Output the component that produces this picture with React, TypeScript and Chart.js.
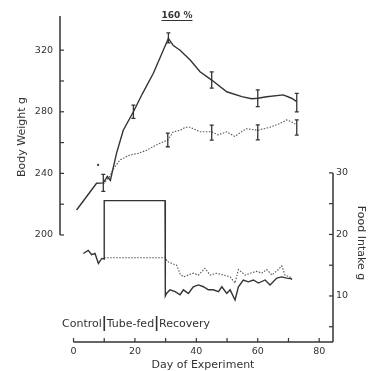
import React, { useEffect, useRef } from "react";
import { Chart, registerables } from "chart.js";

Chart.register(...registerables);

// ---- Body weight (g) ----
const weightTubeDays = [1.0, 7.5, 9.7, 11.0, 12.0, 14.0, 16.2, 19.5, 22.5, 26.0, 30.9, 32.5, 34.7, 38.0, 41.2, 45.0, 49.9, 54.8, 58.0, 60.0, 62.9, 68.3, 71.0, 72.7];
const weightTubeValues = [216.2, 233.6, 233.8, 238.0, 235.5, 253.0, 268.0, 280.0, 292.0, 305.0, 327.7, 323.0, 320.0, 313.6, 306.0, 300.6, 293.0, 289.8, 288.5, 288.8, 289.8, 291.0, 288.8, 286.6];

const weightControlDays = [9.7, 11.7, 13.0, 15.1, 18.4, 21.0, 23.8, 27.0, 30.7, 32.5, 34.7, 36.5, 38.0, 41.2, 45.0, 47.0, 49.9, 52.5, 56.2, 60.0, 64.0, 67.3, 69.4, 71.0, 72.7];
const weightControlValues = [233.0, 237.9, 243.0, 248.7, 252.0, 253.0, 255.0, 258.5, 261.7, 267.0, 268.0, 270.0, 270.0, 267.0, 267.0, 265.0, 267.0, 264.0, 269.0, 268.0, 270.0, 272.5, 274.7, 273.6, 271.4];

const strayDotDays = [8.0];
const strayDotValues = [245.5];

// error bars: day, centre, half-width
const errTubeDays = [9.7, 19.5, 30.9, 45.0, 60.0, 72.7];
const errTubeCentre = [233.8, 280.0, 328.0, 300.6, 288.8, 286.0];
const errTubeHalf = [5.5, 4.3, 3.3, 5.3, 5.4, 6.0];

const errControlDays = [30.7, 45.0, 60.0, 72.7];
const errControlCentre = [261.7, 266.5, 266.6, 269.8];
const errControlHalf = [4.4, 4.9, 4.9, 4.9];

// ---- Food intake (g) ----
const foodTubeDays = [3.2, 4.8, 5.9, 7.0, 8.1, 9.2, 10.0, 10.0, 29.8, 29.9, 30.3, 31.4, 33.1, 34.7, 35.8, 37.4, 39.0, 40.7, 42.3, 43.9, 45.5, 47.2, 48.3, 49.9, 51.0, 52.6, 53.7, 55.3, 56.9, 58.6, 60.2, 62.4, 64.0, 66.2, 67.8, 69.4, 71.1];
const foodTubeValues = [16.9, 17.4, 16.7, 16.9, 15.3, 16.1, 16.0, 25.5, 25.5, 10.0, 10.4, 11.0, 10.7, 10.2, 11.0, 10.4, 11.5, 11.8, 11.5, 11.0, 11.0, 10.7, 11.5, 10.4, 11.0, 9.35, 11.5, 12.6, 12.3, 12.6, 12.1, 12.6, 11.8, 12.9, 13.1, 12.9, 12.8];

const foodControlDays = [10.0, 30.0, 30.5, 32.0, 33.6, 34.7, 35.8, 37.4, 39.0, 40.7, 42.8, 44.5, 46.6, 48.8, 51.0, 52.6, 53.7, 55.9, 57.5, 59.7, 61.3, 62.9, 64.6, 66.7, 67.8, 68.9, 70.5, 71.1];
const foodControlValues = [16.2, 16.2, 15.6, 15.3, 15.0, 13.6, 13.1, 13.4, 13.7, 13.4, 14.5, 13.4, 13.7, 13.4, 13.1, 12.1, 14.3, 13.4, 13.7, 14.0, 13.7, 14.3, 13.4, 14.3, 14.9, 13.4, 13.1, 12.6];

// ---- ticks ----
const xTicks = [0, 10, 20, 30, 40, 50, 60, 70, 80];
const xLabels = [0, 20, 40, 60, 80];
const weightTicks = [200, 220, 240, 260, 280, 300, 320];
const weightLabels = [200, 240, 280, 320];
const foodTicks = [5, 10, 15, 20, 25, 30];
const foodLabels = [10, 20, 30];

const title = "160 %";
const phaseLabels = ["Control", "Tube-fed", "Recovery"];
const xTitle = "Day of Experiment";
const weightTitle = "Body Weight g";
const foodTitle = "Food Intake g";

const INK = "#333";
const FONT = "'DejaVu Sans', sans-serif";

const toXY = (xs: number[], ys: number[]) => xs.map((x, i) => ({ x, y: ys[i] }));

const decor = {
  id: "decor",
  afterDraw(chart: any) {
    const { ctx, chartArea } = chart;
    const x = chart.scales.x;
    const yW = chart.scales.yW;
    const yF = chart.scales.yF;
    ctx.save();
    ctx.strokeStyle = INK;
    ctx.fillStyle = INK;
    ctx.lineWidth = 1.5;
    ctx.lineCap = "butt";
    // left axis
    const lx = chartArea.left;
    ctx.beginPath();
    ctx.moveTo(lx, yW.getPixelForValue(200));
    ctx.lineTo(lx, chartArea.top);
    ctx.stroke();
    ctx.lineWidth = 1.2;
    for (const v of weightTicks) {
      const py = yW.getPixelForValue(v);
      ctx.beginPath();
      ctx.moveTo(lx, py);
      ctx.lineTo(lx + 4, py);
      ctx.stroke();
    }
    // bottom axis
    ctx.lineWidth = 1.5;
    const by = chartArea.bottom;
    ctx.beginPath();
    ctx.moveTo(x.getPixelForValue(0), by);
    ctx.lineTo(chartArea.right, by);
    ctx.stroke();
    ctx.lineWidth = 1.2;
    for (const v of xTicks) {
      const px = x.getPixelForValue(v);
      ctx.beginPath();
      ctx.moveTo(px, by);
      ctx.lineTo(px, by - 4);
      ctx.stroke();
    }
    // right axis
    ctx.lineWidth = 1.5;
    const rx = chartArea.right;
    ctx.beginPath();
    ctx.moveTo(rx, by);
    ctx.lineTo(rx, yF.getPixelForValue(30));
    ctx.stroke();
    ctx.lineWidth = 1.2;
    for (const v of foodTicks) {
      const py = yF.getPixelForValue(v);
      ctx.beginPath();
      ctx.moveTo(rx, py);
      ctx.lineTo(rx - 4, py);
      ctx.stroke();
    }
    // error bars
    const drawErr = (days: number[], c: number[], h: number[]) => {
      ctx.lineWidth = 1.3;
      days.forEach((d, i) => {
        const px = x.getPixelForValue(d);
        const top = yW.getPixelForValue(c[i] + h[i]);
        const bot = yW.getPixelForValue(c[i] - h[i]);
        ctx.beginPath();
        ctx.moveTo(px, top);
        ctx.lineTo(px, bot);
        ctx.moveTo(px - 2, top);
        ctx.lineTo(px + 2, top);
        ctx.moveTo(px - 2, bot);
        ctx.lineTo(px + 2, bot);
        ctx.stroke();
      });
    };
    drawErr(errTubeDays, errTubeCentre, errTubeHalf);
    drawErr(errControlDays, errControlCentre, errControlHalf);

    // title
    ctx.font = `bold 9px ${FONT}`;
    ctx.textAlign = "center";
    ctx.textBaseline = "alphabetic";
    ctx.fillText(title, 177, 18);
    const tw = ctx.measureText(title).width;
    ctx.lineWidth = 1;
    ctx.beginPath();
    ctx.moveTo(177 - tw / 2, 20.5);
    ctx.lineTo(177 + tw / 2, 20.5);
    ctx.stroke();

    // phase labels
    ctx.font = `11px ${FONT}`;
    ctx.textAlign = "left";
    let cx = 62;
    phaseLabels.forEach((t, i) => {
      ctx.fillText(t, cx, 327);
      cx += ctx.measureText(t).width;
      if (i < phaseLabels.length - 1) {
        cx += 2.5;
        ctx.lineWidth = 1.6;
        ctx.beginPath();
        ctx.moveTo(cx, 316);
        ctx.lineTo(cx, 331);
        ctx.stroke();
        cx += 2.5;
      }
    });

    // x title
    ctx.textAlign = "center";
    ctx.fillText(xTitle, 203, 368);

    // left title
    ctx.save();
    ctx.translate(22, 137);
    ctx.rotate(-Math.PI / 2);
    ctx.textBaseline = "middle";
    ctx.fillText(weightTitle, 0, 0);
    ctx.restore();

    // right title
    ctx.save();
    ctx.translate(361, 243);
    ctx.rotate(Math.PI / 2);
    ctx.textBaseline = "middle";
    ctx.fillText(foodTitle, 0, 0);
    ctx.restore();

    ctx.restore();
  },
};

export default function App() {
  const ref = useRef<HTMLCanvasElement | null>(null);
  useEffect(() => {
    if (!ref.current) return;
    const tickFont = { family: FONT, size: 9.5 };
    const chart = new Chart(ref.current, {
      type: "line",
      data: {
        datasets: [
          {
            data: toXY(weightTubeDays, weightTubeValues),
            yAxisID: "yW",
            borderColor: INK,
            borderWidth: 1.4,
            pointRadius: 0,
            tension: 0,
          },
          {
            data: toXY(weightControlDays, weightControlValues),
            yAxisID: "yW",
            borderColor: "#555",
            borderWidth: 1.1,
            borderDash: [1.5, 1.5],
            pointRadius: 0,
            tension: 0,
          },
          {
            data: toXY(strayDotDays, strayDotValues),
            yAxisID: "yW",
            showLine: false,
            pointRadius: 1.1,
            pointBackgroundColor: INK,
            pointBorderWidth: 0,
          },
          {
            data: toXY(foodTubeDays, foodTubeValues),
            yAxisID: "yF",
            borderColor: INK,
            borderWidth: 1.4,
            pointRadius: 0,
            tension: 0,
          },
          {
            data: toXY(foodControlDays, foodControlValues),
            yAxisID: "yF",
            borderColor: "#555",
            borderWidth: 1.1,
            borderDash: [1.5, 1.5],
            pointRadius: 0,
            tension: 0,
          },
        ],
      },
      options: {
        animation: false,
        responsive: false,
        devicePixelRatio: 1,
        layout: { padding: { top: 16, left: 0, right: 0, bottom: 0 } },
        plugins: { legend: { display: false }, tooltip: { enabled: false }, title: { display: false } },
        scales: {
          x: {
            type: "linear",
            min: -4.4,
            max: 84.5,
            grid: { display: false, drawTicks: false },
            border: { display: false },
            afterBuildTicks: (s: any) => {
              s.ticks = xTicks.map((v) => ({ value: v }));
            },
            afterFit: (s: any) => {
              s.height = 29;
            },
            ticks: {
              autoSkip: false,
              maxRotation: 0,
              padding: 4,
              color: INK,
              font: tickFont,
              callback: (v: any) => (xLabels.includes(Number(v)) ? String(v) : ""),
            },
          },
          yW: {
            type: "linear",
            position: "left",
            min: 130.5,
            max: 342.2,
            grid: { display: false, drawTicks: false },
            border: { display: false },
            afterBuildTicks: (s: any) => {
              s.ticks = weightTicks.map((v) => ({ value: v }));
            },
            afterFit: (s: any) => {
              s.width = 60;
            },
            ticks: {
              autoSkip: false,
              padding: 7,
              color: INK,
              font: tickFont,
              callback: (v: any) => (weightLabels.includes(Number(v)) ? String(v) : ""),
            },
          },
          yF: {
            type: "linear",
            position: "right",
            min: 2.52,
            max: 55.5,
            grid: { display: false, drawTicks: false },
            border: { display: false },
            afterBuildTicks: (s: any) => {
              s.ticks = foodTicks.map((v) => ({ value: v }));
            },
            afterFit: (s: any) => {
              s.width = 37;
            },
            ticks: {
              autoSkip: false,
              padding: 3,
              color: INK,
              font: tickFont,
              callback: (v: any) => (foodLabels.includes(Number(v)) ? String(v) : ""),
            },
          },
        },
      },
      plugins: [decor],
    } as any);
    return () => chart.destroy();
  }, []);
  return (
    <div style={{ position: "absolute", left: 0, top: 0, width: 370, height: 371, background: "#fff" }}>
      <canvas ref={ref} width={370} height={371} style={{ display: "block", width: 370, height: 371 }} />
    </div>
  );
}
